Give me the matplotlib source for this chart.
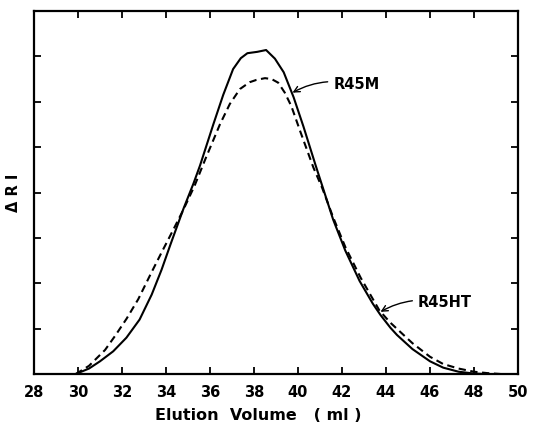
import matplotlib
matplotlib.use("Agg")
import matplotlib.pyplot as plt

# GPC traces (elution volume in ml, delta RI in tick units)
r45m_x = [29.9, 30.5, 31.0, 31.6, 32.2, 32.8, 33.35, 33.8, 34.2, 34.8, 35.25, 35.55,
          36.15, 36.6, 37.05, 37.4, 37.7, 38.15, 38.55, 38.95, 39.35, 39.8, 40.25,
          40.8, 41.1, 41.6, 42.15, 42.8, 43.4, 43.75, 44.2, 44.5, 45.2, 46.0, 46.6,
          47.3, 48.0, 48.5]
r45m_y = [0.0, 0.12, 0.28, 0.5, 0.8, 1.2, 1.75, 2.3, 2.85, 3.65, 4.2, 4.6,
          5.5, 6.15, 6.72, 6.96, 7.07, 7.1, 7.14, 6.95, 6.65, 6.1, 5.45,
          4.6, 4.15, 3.4, 2.72, 2.05, 1.55, 1.3, 1.02, 0.86, 0.55, 0.28, 0.14,
          0.05, 0.01, 0.0]

r45ht_x = [29.9, 30.5, 31.23, 31.7, 32.21, 32.74, 33.3, 33.8, 34.3, 34.79, 35.3,
           35.8, 36.45, 36.9, 37.36, 37.8, 38.1, 38.5, 38.8, 39.1, 39.4, 39.7,
           40.1, 40.7, 41.1, 41.6, 42.15, 42.85, 43.7, 44.2, 44.6, 45.2, 46.0,
           46.6, 47.3, 48.0, 48.6, 49.2]
r45ht_y = [0.0, 0.18, 0.53, 0.85, 1.22, 1.65, 2.2, 2.68, 3.15, 3.62, 4.15,
           4.75, 5.5, 5.95, 6.28, 6.43, 6.48, 6.52, 6.5, 6.42, 6.2, 5.9,
           5.35, 4.55, 4.1, 3.45, 2.8, 2.12, 1.4, 1.13, 0.95, 0.68, 0.38,
           0.22, 0.12, 0.05, 0.02, 0.0]

x_ticks = list(range(28, 51, 2))
y_ticks = [1, 2, 3, 4, 5, 6, 7]

plt.rcParams['font.family'] = ['DejaVu Sans']

fig = plt.figure(figsize=(5.4, 4.22), dpi=100)
ax = fig.add_axes([34 / 540, 48 / 422, 484 / 540, 363 / 422])

ax.plot(r45m_x, r45m_y, color='black', linewidth=1.5)
ax.plot(r45ht_x, r45ht_y, color='black', linewidth=1.5, linestyle=(0, (3.5, 2.2)))

ax.set_xlim(28, 50)
ax.set_ylim(0, 8)
ax.set_xticks(x_ticks)
ax.set_xticklabels([str(t) for t in x_ticks], fontsize=10.5, fontweight='bold')
ax.set_yticks(y_ticks)
ax.set_yticklabels([])
ax.tick_params(direction='in', length=5, width=1.3, top=True, right=True, pad=8)

for s in ax.spines.values():
    s.set_linewidth(1.6)

ax.set_xlabel('Elution  Volume   ( ml )', fontsize=11.5, fontweight='bold')
ax.xaxis.set_label_coords(0.463, -0.095)
ax.set_ylabel('Δ R I', fontsize=10.5, fontweight='bold')
ax.yaxis.set_label_coords(-0.026, 0.5)

ax.annotate('R45M', xy=(39.75, 6.2), xytext=(41.6, 6.38), fontsize=10.5,
            fontweight='bold', va='center', ha='left',
            arrowprops=dict(arrowstyle='->', color='black', lw=1.0,
                            connectionstyle='arc3,rad=0.2', shrinkA=2, shrinkB=0))
ax.annotate('R45HT', xy=(43.75, 1.37), xytext=(45.45, 1.57), fontsize=10.5,
            fontweight='bold', va='center', ha='left',
            arrowprops=dict(arrowstyle='->', color='black', lw=1.0,
                            connectionstyle='arc3,rad=0.2', shrinkA=2, shrinkB=0))

fig.savefig('out.png', dpi=100)
